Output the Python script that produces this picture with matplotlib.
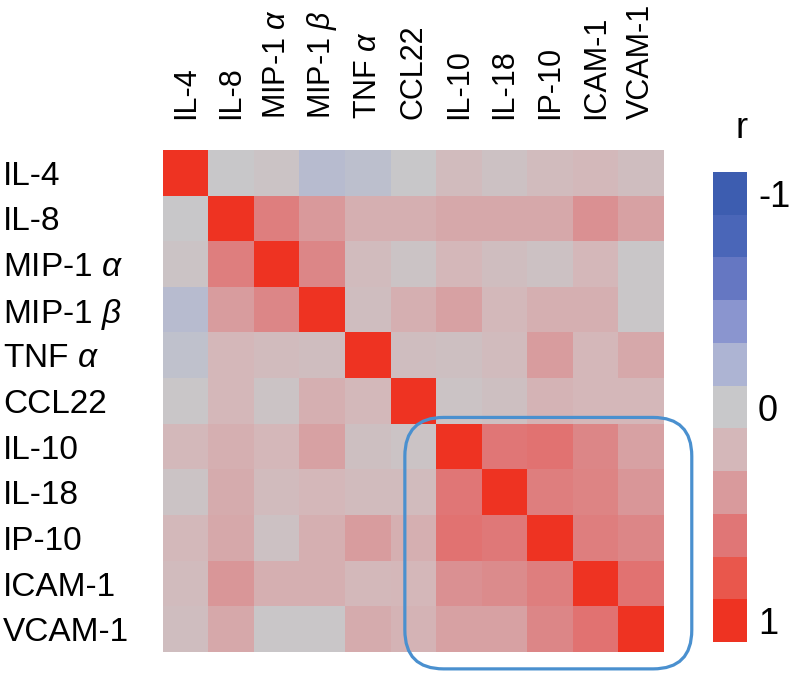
import matplotlib
matplotlib.use("Agg")
import matplotlib.pyplot as plt
import numpy as np
from matplotlib.colors import LinearSegmentedColormap, ListedColormap, BoundaryNorm
from matplotlib.patches import FancyBboxPatch
from matplotlib.cm import ScalarMappable

plt.rcParams['font.family'] = ['Liberation Sans', 'DejaVu Sans']
plt.rcParams['mathtext.fontset'] = 'custom'
plt.rcParams['mathtext.it'] = 'Liberation Sans:italic'
plt.rcParams['mathtext.rm'] = 'Liberation Sans'

labels = ["IL-4", "IL-8", r"MIP-1 $\alpha$", r"MIP-1 $\beta$", r"TNF $\alpha$", "CCL22",
          "IL-10", "IL-18", "IP-10", "ICAM-1", "VCAM-1"]

corr = np.array([
    [1.00, 0.00, 0.05, -0.12, -0.08, 0.00, 0.15, 0.08, 0.15, 0.18, 0.12],
    [0.00, 1.00, 0.55, 0.40, 0.25, 0.25, 0.30, 0.30, 0.30, 0.45, 0.35],
    [0.05, 0.55, 1.00, 0.50, 0.15, 0.05, 0.20, 0.12, 0.08, 0.20, 0.02],
    [-0.12, 0.38, 0.50, 1.00, 0.12, 0.25, 0.35, 0.18, 0.25, 0.25, 0.02],
    [-0.07, 0.20, 0.15, 0.12, 1.00, 0.12, 0.10, 0.15, 0.38, 0.20, 0.30],
    [0.02, 0.20, 0.05, 0.25, 0.18, 1.00, 0.05, 0.10, 0.22, 0.20, 0.20],
    [0.18, 0.25, 0.20, 0.35, 0.10, 0.05, 1.00, 0.60, 0.62, 0.50, 0.35],
    [0.05, 0.28, 0.15, 0.20, 0.15, 0.15, 0.60, 1.00, 0.55, 0.52, 0.42],
    [0.18, 0.30, 0.08, 0.25, 0.38, 0.25, 0.62, 0.58, 1.00, 0.55, 0.50],
    [0.15, 0.42, 0.25, 0.25, 0.18, 0.20, 0.45, 0.48, 0.55, 1.00, 0.62],
    [0.12, 0.30, 0.02, 0.02, 0.28, 0.22, 0.35, 0.35, 0.50, 0.62, 1.00],
])

# colour bands of the legend, from r = -1 to r = 1
band_values = [-1.0, -0.8, -0.6, -0.4, -0.2, 0.0, 0.2, 0.4, 0.6, 0.8, 1.0]
band_colors = ["#3d5db0", "#4a66b8", "#6577c2", "#8a95cf", "#adb4d3", "#c8c8ca",
               "#d4b7b9", "#d99a9c", "#e07676", "#e9574c", "#ee3322"]

cmap = LinearSegmentedColormap.from_list(
    "rb", [((v + 1) / 2, c) for v, c in zip(band_values, band_colors)])

fig = plt.figure(figsize=(8, 6.84), dpi=100)
ax = fig.add_axes([163/800, 32/684, 501/800, 502/684])
ax.imshow(corr, cmap=cmap, vmin=-1, vmax=1, aspect="auto", interpolation="nearest")

n = len(labels)
ax.set_xticks(range(n))
ax.set_yticks(range(n))
ax.set_xticklabels(labels, rotation=90, fontsize=22)
ax.set_yticklabels(labels, fontsize=24)
ax.xaxis.tick_top()
ax.tick_params(axis="both", length=0)
ax.tick_params(axis="x", pad=22)
ax.tick_params(axis="y", pad=115)
for t in ax.get_yticklabels():
    t.set_ha("left")
for t in ax.get_xticklabels():
    t.set_va("bottom")
for s in ax.spines.values():
    s.set_visible(False)

# highlight box around the lower-right block
box = FancyBboxPatch((4.81, 5.36), 11.11 - 4.81, 10.87 - 5.36,
                     boxstyle="round,pad=0,rounding_size=0.85",
                     fill=False, ec="#4a90cf", lw=2.3, clip_on=False)
ax.add_patch(box)

# discrete colour bar, -1 at the top
cax = fig.add_axes([713/800, 42/684, 34/800, 470/684])
bounds = np.arange(-1.1, 1.11, 0.2)
norm = BoundaryNorm(bounds, len(band_colors))
sm = ScalarMappable(norm=norm, cmap=ListedColormap(band_colors))
cb = fig.colorbar(sm, cax=cax, ticks=[-1, 0, 1])
cb.outline.set_visible(False)
cb.ax.minorticks_off()
cb.ax.set_yticklabels(["-1", "0", "1"], fontsize=26)
cb.ax.tick_params(which="both", length=0, pad=8)
cax.invert_yaxis()

fig.text(742/800, 1 - 128/684, "r", ha="center", va="center", fontsize=26)

plt.savefig("out.png", dpi=100)
